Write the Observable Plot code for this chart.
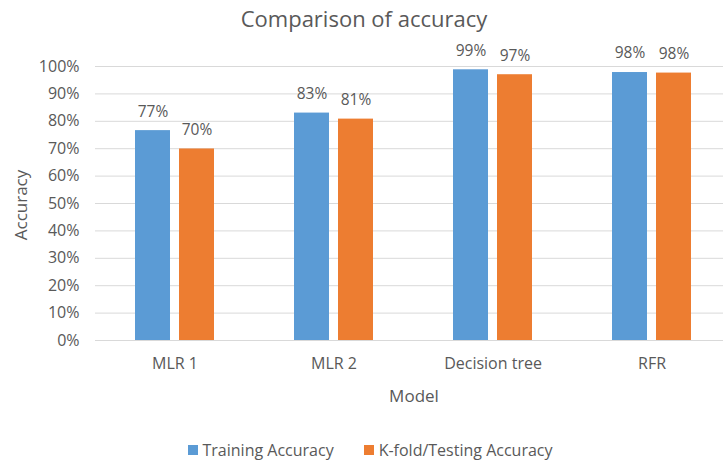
<!DOCTYPE html>
<html>
<head>
<meta charset="utf-8">
<script src="https://cdn.jsdelivr.net/npm/d3@7"></script>
<script src="https://cdn.jsdelivr.net/npm/@observablehq/plot@0.6"></script>
<style>
  html, body { margin: 0; padding: 0; background: #fff; overflow: hidden; width: 723px; height: 464px; }
  body { font-family: "Open Sans", sans-serif; color: #595959; position: relative; }
  #title { position: absolute; left: 0; top: 0; height: 36px; line-height: 36px; font-size: 22px; text-align: center; padding-left: 5px; width: 723px; box-sizing: border-box; }
  #chart { position: absolute; left: 0; top: 36px; width: 723px; overflow: hidden; height: 374px; }
  #chart svg { max-width: none !important; width: 732px; height: 374px; }
  #ylabel { position: absolute; left: 20px; top: 205px; transform: translate(-50%, -50%) rotate(-90deg); font-size: 17px; white-space: nowrap; }
  #xlabel { position: absolute; left: 414px; top: 395px; transform: translate(-50%, -50%); font-size: 17px; white-space: nowrap; }
  #legend { position: absolute; left: 0; top: 438px; width: 723px; height: 24px; display: flex; justify-content: center; align-items: center; gap: 30px; font-size: 16px; padding-left: 17px; box-sizing: border-box; }
  .item { display: flex; align-items: center; gap: 5px; }
  .sw { width: 10px; height: 10px; display: inline-block; }
</style>
</head>
<body>
<div id="title">Comparison of accuracy</div>
<div id="chart"></div>
<div id="ylabel">Accuracy</div>
<div id="xlabel">Model</div>
<div id="legend"></div>
<script>
const models = ["MLR 1", "MLR 2", "Decision tree", "RFR"];
const seriesNames = ["Training Accuracy", "K-fold/Testing Accuracy"];
const seriesColors = ["#5B9BD5", "#ED7D31"];
const trainingAccuracy = [0.766, 0.83, 0.988, 0.978];
const testingAccuracy = [0.699, 0.808, 0.97, 0.976];
const yTicks = [0, 0.1, 0.2, 0.3, 0.4, 0.5, 0.6, 0.7, 0.8, 0.9, 1.0];

const rows = [];
models.forEach((m, i) => {
  rows.push({model: m, series: seriesNames[0], value: trainingAccuracy[i]});
  rows.push({model: m, series: seriesNames[1], value: testingAccuracy[i]});
});

const fmt = d3.format(".0%");
const chart = Plot.plot({
  width: 732,
  height: 374,
  marginTop: 30,
  marginBottom: 70,
  marginLeft: 95,
  marginRight: 1,
  style: {fontFamily: "Open Sans, sans-serif", fontSize: "16px", color: "#595959", background: "white", maxWidth: "none"},
  fx: {domain: models, padding: 0, label: null, tickSize: 0, tickPadding: 17},
  x: {domain: seriesNames, paddingInner: 0.2, paddingOuter: 0.9, axis: null},
  y: {domain: [0, 1], ticks: yTicks, tickFormat: fmt, tickSize: 0, tickPadding: 16, label: null},
  color: {domain: seriesNames, range: seriesColors},
  marks: [
    Plot.gridY(yTicks, {stroke: "#d9d9d9", strokeOpacity: 1}),
    Plot.barY(rows, {fx: "model", x: "series", y: "value", fill: "series"}),
    Plot.text(rows, {fx: "model", x: "series", y: "value", text: d => fmt(d.value), dy: -19, fill: "#595959", fontSize: 15.5})
  ]
});
document.getElementById("chart").appendChild(chart);

const legend = document.getElementById("legend");
seriesNames.forEach((s, i) => {
  const item = document.createElement("div");
  item.className = "item";
  const sw = document.createElement("span");
  sw.className = "sw";
  sw.style.background = seriesColors[i];
  const t = document.createElement("span");
  t.textContent = s;
  item.appendChild(sw);
  item.appendChild(t);
  legend.appendChild(item);
});
</script>
</body>
</html>
